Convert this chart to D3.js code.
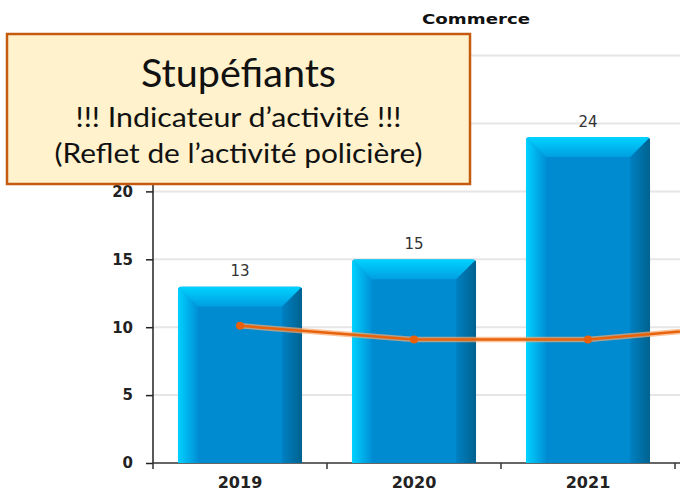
<!DOCTYPE html>
<html>
<head>
<meta charset="utf-8">
<script src="https://cdn.jsdelivr.net/npm/d3@7"></script>
<style>
  body { margin: 0; background: #fff; }
  svg { display: block; }
</style>
</head>
<body>
<div id="chart"></div>
<script>
// data (2022 is cut off on the right)
var years = ["2019", "2020", "2021", "2022"];
var commerce = [13, 15, 24, null];
var trend = [10.1, 9.1, 9.1, 10.2];
var yTicks = [0, 5, 10, 15, 20, 25, 30];
var yLabels = [0, 5, 10, 15, 20]; // 25 and 30 sit under the note box

var chartTitle = "Commerce";
var boxLines = ["Stupéfiants", "!!! Indicateur d’activité !!!", "(Reflet de l’activité policière)"];

var width = 680,
    height = 495;

var svg = d3.select("#chart").append("svg")
    .attr("width", width)
    .attr("height", height);

var defs = svg.append("defs");

function grad(id, x2, y2, stops) {
  var g = defs.append("linearGradient").attr("id", id)
      .attr("x1", 0).attr("y1", 0).attr("x2", x2).attr("y2", y2);
  stops.forEach(function(s) {
    g.append("stop").attr("offset", s[0]).attr("stop-color", s[1]);
  });
}
grad("gLeft", 1, 0, [[0, "#00d2ff"], [1, "#0090d6"]]);
grad("gRight", 1, 0, [[0, "#0080c2"], [1, "#00628f"]]);
grad("gTop", 0, 1, [[0, "#00d4ff"], [1, "#009ee0"]]);

// scales
var x = d3.scaleBand()
    .domain(years)
    .range([153, 153 + 174 * years.length])
    .paddingInner(0.286)
    .paddingOuter(0.143);

var y = d3.scaleLinear()
    .domain([0, 30])
    .range([463, 55.6]);

var step = x.step();

// grid lines
svg.append("g").selectAll("line")
    .data(yTicks.filter(function(d) { return d > 0; }))
    .enter().append("line")
      .attr("x1", 153).attr("x2", width)
      .attr("y1", function(d) { return y(d); })
      .attr("y2", function(d) { return y(d); })
      .attr("stroke", "#e6e6e6")
      .attr("stroke-width", 2);

// title
svg.append("text")
    .attr("x", 476).attr("y", 23.5)
    .attr("text-anchor", "middle")
    .attr("textLength", 108)
    .attr("lengthAdjust", "spacingAndGlyphs")
    .style("font-family", "DejaVu Sans, sans-serif")
    .style("font-weight", "bold")
    .style("font-size", "14.5px")
    .attr("fill", "#111")
    .text(chartTitle);

// y axis
var yAxis = svg.append("g")
    .attr("transform", "translate(153,0)")
    .call(d3.axisLeft(y).tickValues(yLabels).tickSize(7).tickPadding(13).tickSizeOuter(0));
yAxis.select(".domain").attr("stroke", "#222").attr("stroke-width", 1.5)
    .attr("d", "M0," + y(0) + "V" + y(30));
yAxis.selectAll(".tick line").attr("stroke", "#222").attr("stroke-width", 1.5);
yAxis.selectAll("text")
    .style("font-family", "DejaVu Sans, sans-serif")
    .style("font-weight", "bold")
    .style("font-size", "15px")
    .attr("fill", "#222");

// x axis line + ticks at band edges
svg.append("line")
    .attr("x1", 153).attr("x2", width)
    .attr("y1", y(0)).attr("y2", y(0))
    .attr("stroke", "#333").attr("stroke-width", 1.5);

svg.append("g").selectAll("line")
    .data(years)
    .enter().append("line")
      .attr("x1", function(d) { return x(d) - step * 0.143; })
      .attr("x2", function(d) { return x(d) - step * 0.143; })
      .attr("y1", y(0)).attr("y2", y(0) + 6)
      .attr("stroke", "#333").attr("stroke-width", 1.5);

// only the labels that fall inside the picture
svg.append("g").selectAll("text")
    .data(years.filter(function(d) { return x(d) + x.bandwidth() / 2 + 25 < width; }))
    .enter().append("text")
      .attr("x", function(d) { return x(d) + x.bandwidth() / 2; })
      .attr("y", 488)
      .attr("text-anchor", "middle")
      .style("font-family", "DejaVu Sans, sans-serif")
      .style("font-weight", "bold")
      .style("font-size", "16px")
      .attr("fill", "#222")
      .text(function(d) { return d; });

// bars with bevel
var barData = years.map(function(d, i) { return {year: d, value: commerce[i]}; })
    .filter(function(d) { return d.value != null; });

var bev = 20;

var bar = svg.append("g").selectAll("g")
    .data(barData)
    .enter().append("g");

bar.each(function(d, i) {
  var g = d3.select(this);
  var x0 = x(d.year), x1 = x0 + x.bandwidth();
  var top = y(d.value), base = y(0);

  defs.append("clipPath").attr("id", "clip" + i)
    .append("rect")
      .attr("x", x0).attr("y", top)
      .attr("width", x1 - x0).attr("height", base - top + 6)
      .attr("rx", 4);

  var inner = g.append("g").attr("clip-path", "url(#clip" + i + ")");

  inner.append("rect")
      .attr("x", x0).attr("y", top)
      .attr("width", x1 - x0).attr("height", base - top)
      .attr("fill", "#008bd1");

  inner.append("polygon")
      .attr("points", [[x0, top], [x0 + bev, top + bev], [x0 + bev, base], [x0, base]].join(" "))
      .attr("fill", "url(#gLeft)");

  inner.append("polygon")
      .attr("points", [[x1, top], [x1 - bev, top + bev], [x1 - bev, base], [x1, base]].join(" "))
      .attr("fill", "url(#gRight)");

  inner.append("polygon")
      .attr("points", [[x0, top], [x1, top], [x1 - bev, top + bev], [x0 + bev, top + bev]].join(" "))
      .attr("fill", "url(#gTop)");
});

// value labels
bar.append("text")
    .attr("x", function(d) { return x(d.year) + x.bandwidth() / 2; })
    .attr("y", function(d) { return y(d.value) - 10; })
    .attr("text-anchor", "middle")
    .style("font-family", "DejaVu Sans, sans-serif")
    .style("font-size", "15px")
    .attr("fill", "#333")
    .text(function(d) { return d.value; });

// trend line
var line = d3.line()
    .x(function(d, i) { return x(years[i]) + x.bandwidth() / 2; })
    .y(function(d) { return y(d); });

svg.append("path")
    .datum(trend)
    .attr("d", line)
    .attr("fill", "none")
    .attr("stroke", "#f6a970")
    .attr("stroke-opacity", 0.7)
    .attr("stroke-width", 5.5);

svg.append("path")
    .datum(trend)
    .attr("d", line)
    .attr("fill", "none")
    .attr("stroke", "#e8630c")
    .attr("stroke-width", 2.5);

svg.append("g").selectAll("circle")
    .data(trend)
    .enter().append("circle")
      .attr("cx", function(d, i) { return x(years[i]) + x.bandwidth() / 2; })
      .attr("cy", function(d) { return y(d); })
      .attr("r", 4)
      .attr("fill", "#e8600a");

// annotation box
svg.append("rect")
    .attr("x", 7).attr("y", 34)
    .attr("width", 463).attr("height", 150)
    .attr("fill", "#fff2cc")
    .attr("stroke", "#c55a11")
    .attr("stroke-width", 2.5);

var boxFont = "Lato, sans-serif";
var boxSizes = [38, 27, 27];
var boxBase = [87, 127, 163];
var boxWidths = [195, 326, 368];

svg.append("g").selectAll("text")
    .data(boxLines)
    .enter().append("text")
      .attr("x", 238.5)
      .attr("y", function(d, i) { return boxBase[i]; })
      .attr("text-anchor", "middle")
      .attr("textLength", function(d, i) { return boxWidths[i]; })
      .attr("lengthAdjust", "spacingAndGlyphs")
      .style("font-family", boxFont)
      .style("font-size", function(d, i) { return boxSizes[i] + "px"; })
      .attr("fill", "#111")
      .text(function(d) { return d; });
</script>
</body>
</html>
